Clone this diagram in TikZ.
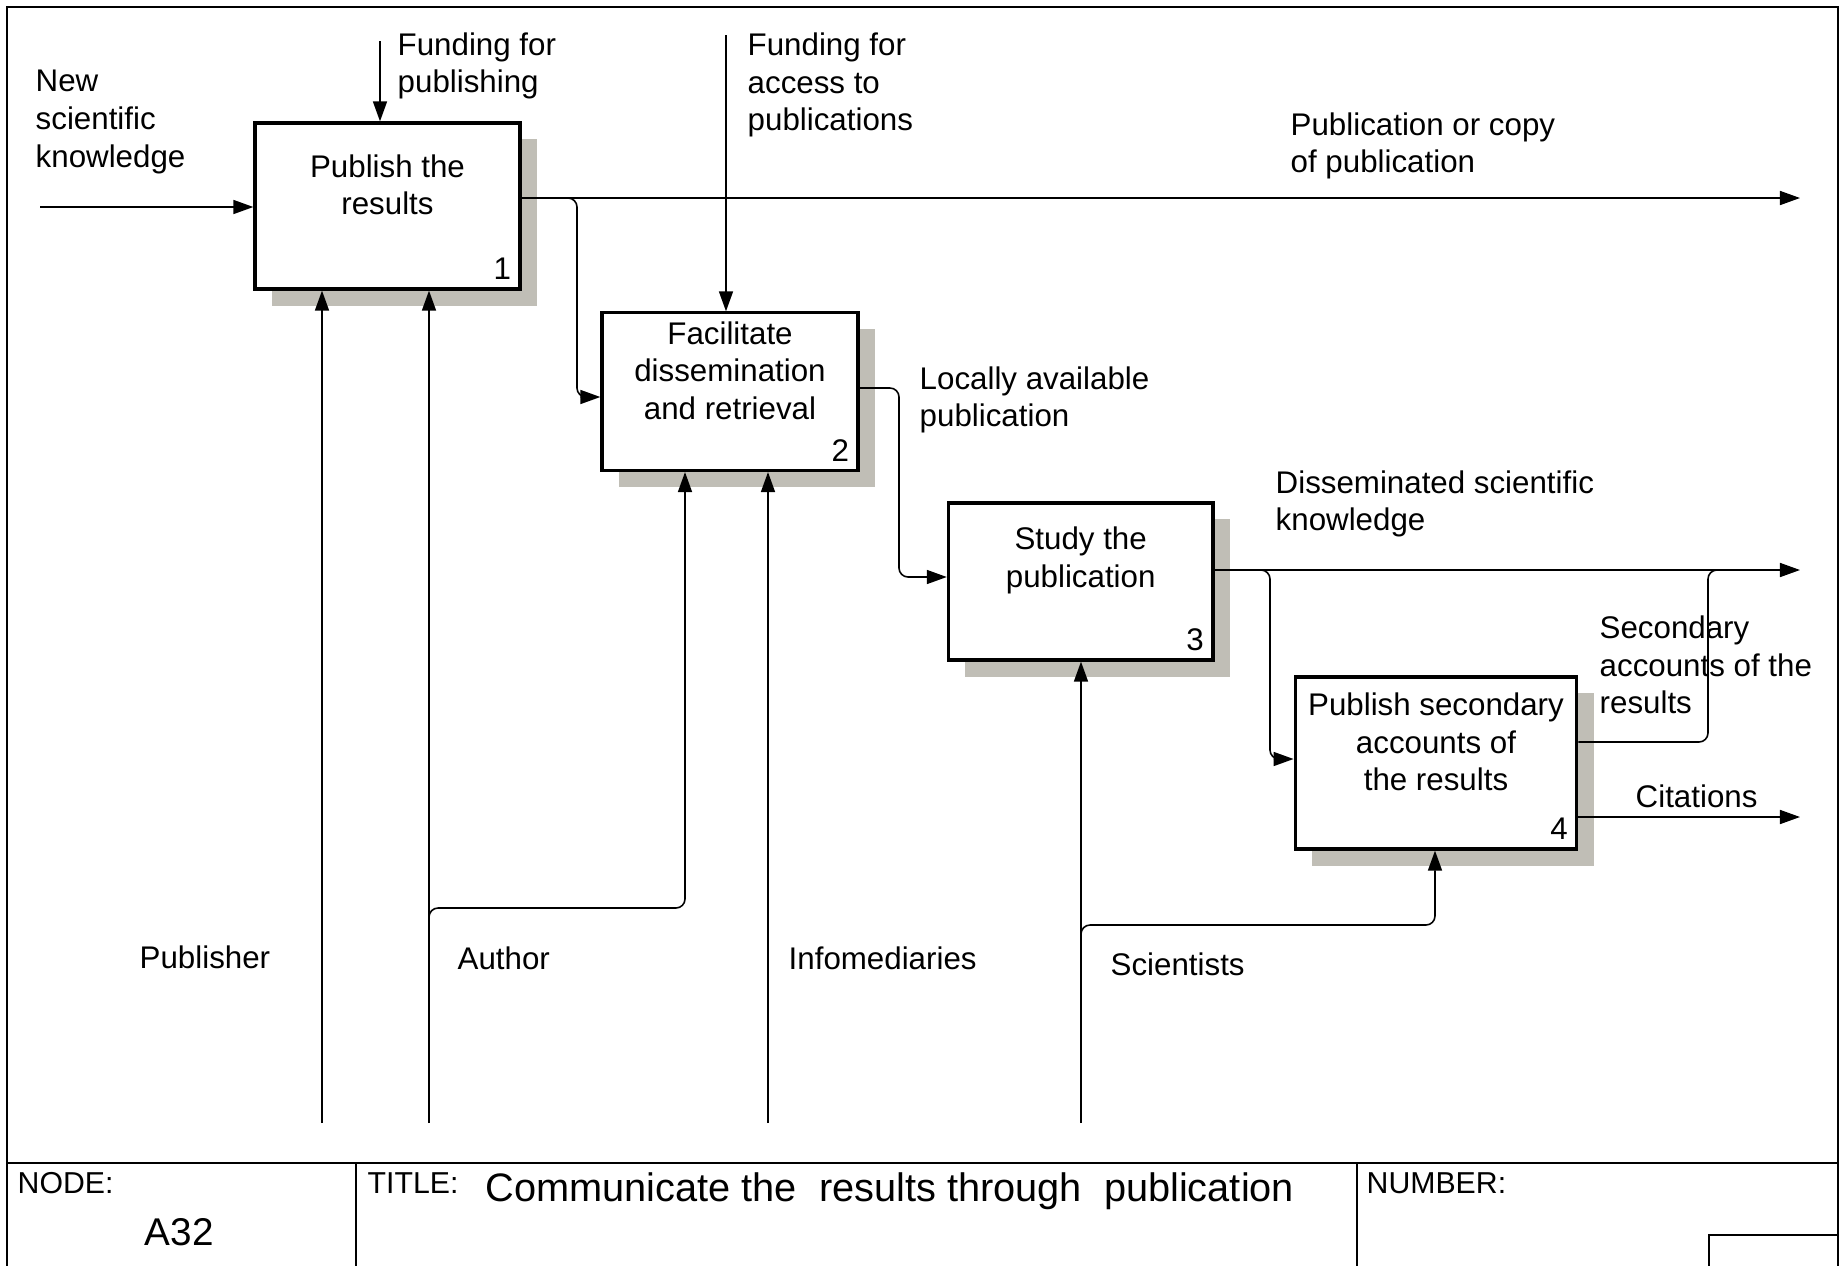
\documentclass[tikz,border=0pt]{standalone}
\usepackage{fontspec}
\setmainfont{Liberation Sans}
\usepackage{tikz}
\usetikzlibrary{arrows.meta, shadows}
\definecolor{shadowgray}{RGB}{192,190,182}

\begin{document}
\begin{tikzpicture}[x=0.01cm, y=-0.01cm, font=\fontsize{8.9}{10.7}\selectfont,
    fn/.style={draw, line width=0.9pt, fill=white,
      drop shadow={shadow xshift=0.17cm, shadow yshift=-0.165cm, fill=shadowgray, opacity=1}},
    fntext/.style={align=center, inner sep=0pt},
    num/.style={anchor=south east, inner sep=0.1cm},
    lbl/.style={align=left, anchor=west, inner sep=0pt},
    small/.style={anchor=base west, inner sep=0pt, font=\fontsize{8.6}{10}\selectfont},
    flow/.style={line width=0.45pt, -{Triangle[length=0.2cm, width=0.14cm]}},
    wire/.style={line width=0.45pt},
    frame/.style={line width=0.7pt}]
  \useasboundingbox (0,0) rectangle (1844,1266);

  % frame and title block
  \draw[frame] (7,1266) -- (7,7) -- (1838,7) -- (1838,1266);
  \draw[frame] (7,1163) -- (1838,1163);
  \draw[frame] (356,1163) -- (356,1266);
  \draw[frame] (1357,1163) -- (1357,1266);
  \draw[frame] (1709,1266) -- (1709,1235) -- (1838,1235);
  \node[small] (tNode) at (17,1193) {NODE:};
  \node[small, font=\fontsize{11}{13}\selectfont] (tA) at (144,1245) {A32};
  \node[small] (tTitle) at (367,1193) {TITLE:};
  \node[small, font=\fontsize{11.3}{13}\selectfont] (tText) at (485,1201) {Communicate the\ \ results through\ \ publication};
  \node[small] (tNum) at (1366,1193) {NUMBER:};

  % activity boxes
  \node[fn, minimum width=2.65cm, minimum height=1.66cm] (b1) at (387.5,206) {};
  \node[fn, minimum width=2.56cm, minimum height=1.575cm] (b2) at (730,391.7) {};
  \node[fn, minimum width=2.645cm, minimum height=1.57cm] (b3) at (1080.7,581.5) {};
  \node[fn, minimum width=2.815cm, minimum height=1.72cm] (b4) at (1436,763) {};
  \node[fntext] (b1t) at ([yshift=0.21cm]b1.center) {Publish the\\results};
  \node[fntext] (b2t) at ([yshift=0.21cm]b2.center) {Facilitate\\dissemination\\and retrieval};
  \node[fntext] (b3t) at ([yshift=0.21cm]b3.center) {Study the\\publication};
  \node[fntext] (b4t) at ([yshift=0.21cm]b4.center) {Publish secondary\\accounts of\\the results};
  \node[num] (n1) at (b1.south east) {1};
  \node[num] (n2) at (b2.south east) {2};
  \node[num] (n3) at (b3.south east) {3};
  \node[num] (n4) at (b4.south east) {4};

  % free ends
  \coordinate (i1) at (40,207);
  \coordinate (c1) at (380,41);
  \coordinate (c2) at (726,35);
  \coordinate (o1) at (1800,198);
  \coordinate (o3) at (1800,570);
  \coordinate (o4) at (1800,817);
  \coordinate (m1) at (322,1123);
  \coordinate (m2) at (429,1123);
  \coordinate (m3) at (768,1123);
  \coordinate (m4) at (1081,1123);

  % inputs, controls, outputs
  \draw[flow] (i1) -- (i1 -| b1.west);
  \draw[flow] (c1) -- (c1 |- b1.north);
  \draw[flow] (c2) -- (c2 |- b2.north);
  \draw[flow] (o1 -| b1.east) -- (o1);
  \draw[flow, rounded corners=0.09cm] (o1 -| b1.east) -- (577,198) -- (577,397) -- (b2.west |- 0,397);
  \draw[flow, rounded corners=0.09cm] (b2.east |- 0,388) -- (899,388) -- (899,577) -- (b3.west |- 0,577);
  \draw[flow] (o3 -| b3.east) -- (o3);
  \draw[flow, rounded corners=0.09cm] (o3 -| b3.east) -- (1270,570) -- (1270,759) -- (b4.west |- 0,759);
  \draw[wire, rounded corners=0.09cm] (b4.east |- 0,742) -- (1708,742) -- (1708,570) -- (1750,570);
  \draw[flow] (o4 -| b4.east) -- (o4);

  % mechanisms
  \draw[flow] (m1) -- (m1 |- b1.south);
  \draw[flow] (m2) -- (m2 |- b1.south);
  \draw[flow, rounded corners=0.09cm] (429,950) -- (429,908) -- (685,908) -- (685,908 |- b2.south);
  \draw[flow] (m3) -- (m3 |- b2.south);
  \draw[flow] (m4) -- (m4 |- b3.south);
  \draw[flow, rounded corners=0.09cm] (1081,960) -- (1081,925) -- (1435,925) -- (1435,925 |- b4.south);

  % arrow labels
  \node[lbl] (lNew) at (35,122) {New\\scientific\\knowledge};
  \node[lbl] (lFund1) at (397,66) {Funding for\\publishing};
  \node[lbl] (lFund2) at (747,85) {Funding for\\access to\\publications};
  \node[lbl] (lPubl) at (1290,146) {Publication or copy\\of publication};
  \node[lbl] (lLoc) at (919,400) {Locally available\\publication};
  \node[lbl] (lDiss) at (1275,504) {Disseminated scientific\\knowledge};
  \node[lbl] (lSec) at (1599,665) {Secondary\\accounts of the\\results};
  \node[lbl] (lCit) at (1635,796) {Citations};
  \node[lbl] (lPub) at (139,957) {Publisher};
  \node[lbl] (lAut) at (457,958) {Author};
  \node[lbl] (lInf) at (788,958) {Infomediaries};
  \node[lbl] (lSci) at (1110,964) {Scientists};
\end{tikzpicture}
\end{document}
